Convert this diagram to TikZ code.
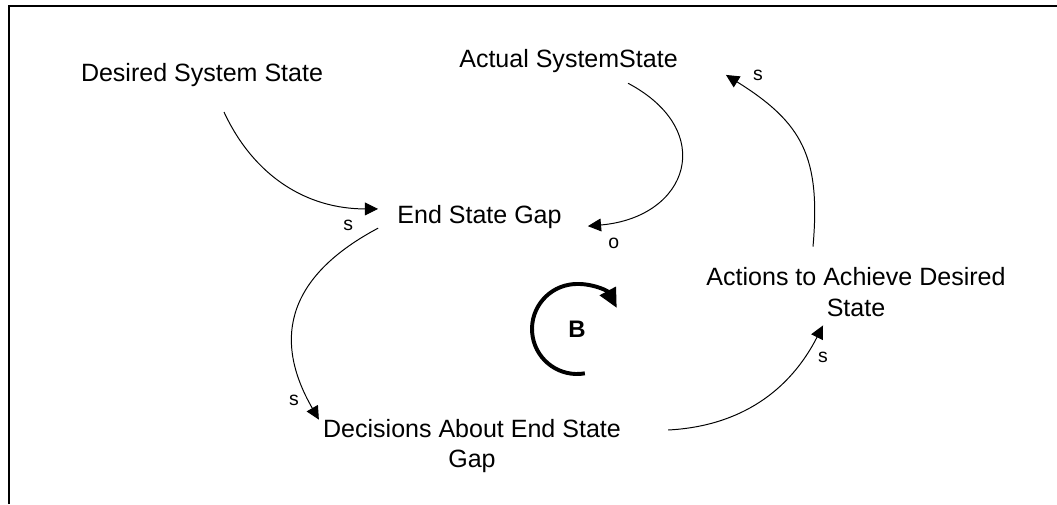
\documentclass[tikz,border=0pt]{standalone}
\usepackage{fontspec}
\setmainfont{Liberation Sans}
\usetikzlibrary{arrows.meta}

\begin{document}
\begin{tikzpicture}[
  var/.style={inner sep=0pt, font=\fontsize{17.8pt}{22pt}\selectfont},
  arr/.style={-{Triangle[length=3.3mm,width=3.2mm]}, line width=0.7pt},
  lab/.style={font=\fontsize{13.8pt}{16pt}\selectfont, inner sep=0pt, pos=1},
  loopar/.style={-{Triangle[length=4.8mm,width=4.4mm]}, line width=2.8pt},
]
\useasboundingbox (0,0) rectangle (26.425,12.6);
\draw[line width=1.4pt] (0.225,0) -- (0.225,12.45) -- (26.425,12.45);
\node[var, anchor=base] (des) at (5.05,10.575) {Desired System State};
\node[var, anchor=base] (act) at (14.2125,10.925) {Actual SystemState};
\node[var, anchor=base] (gap) at (11.9875,7.025) {End State Gap};
\node[var, align=center] (dec) at (11.8,1.45) {Decisions About End State\\Gap};
\node[var, align=center] (ach) at (21.4,5.2875) {Actions to Achieve Desired\\State};
\node[font=\fontsize{17pt}{20pt}\selectfont\bfseries, inner sep=0pt] (bal) at (14.425,4.375) {B};
\draw[arr] ([xshift=5.5mm,yshift=-6.4mm]des.south) to[out=-65,in=180]
  node[lab, xshift=-7.5mm, yshift=-4mm]{s} ([xshift=-4.75mm,yshift=1.9mm]gap.west);
\draw[arr] ([xshift=14.9mm,yshift=-2.7mm]act.south) to[out=-28,in=5,looseness=1.75]
  node[lab, xshift=6.5mm, yshift=-4.25mm]{o} ([xshift=6.5mm,yshift=-2.4mm]gap.east);
\draw[arr] ([xshift=-4.75mm,yshift=-2.9mm]gap.west) to[out=208,in=120,looseness=1.25]
  node[lab, xshift=-6.25mm, yshift=4.75mm]{s} ([xshift=-1mm,yshift=-0.25mm]dec.north west);
\draw[arr] ([xshift=11.75mm,yshift=4mm]dec.east) to[out=3,in=-117]
  node[lab, yshift=-8mm]{s} ([xshift=-8.25mm,yshift=-2mm]ach.south);
\draw[arr] ([xshift=-10.75mm,yshift=5.25mm]ach.north) to[out=85,in=-32,looseness=1.2]
  node[lab, xshift=8mm]{s} ([xshift=12mm,yshift=-3.6mm]act.east);
\draw[loopar] ([shift={(280:1.125)}]bal.center) arc[start angle=280, end angle=28, radius=1.125];
\end{tikzpicture}
\end{document}
